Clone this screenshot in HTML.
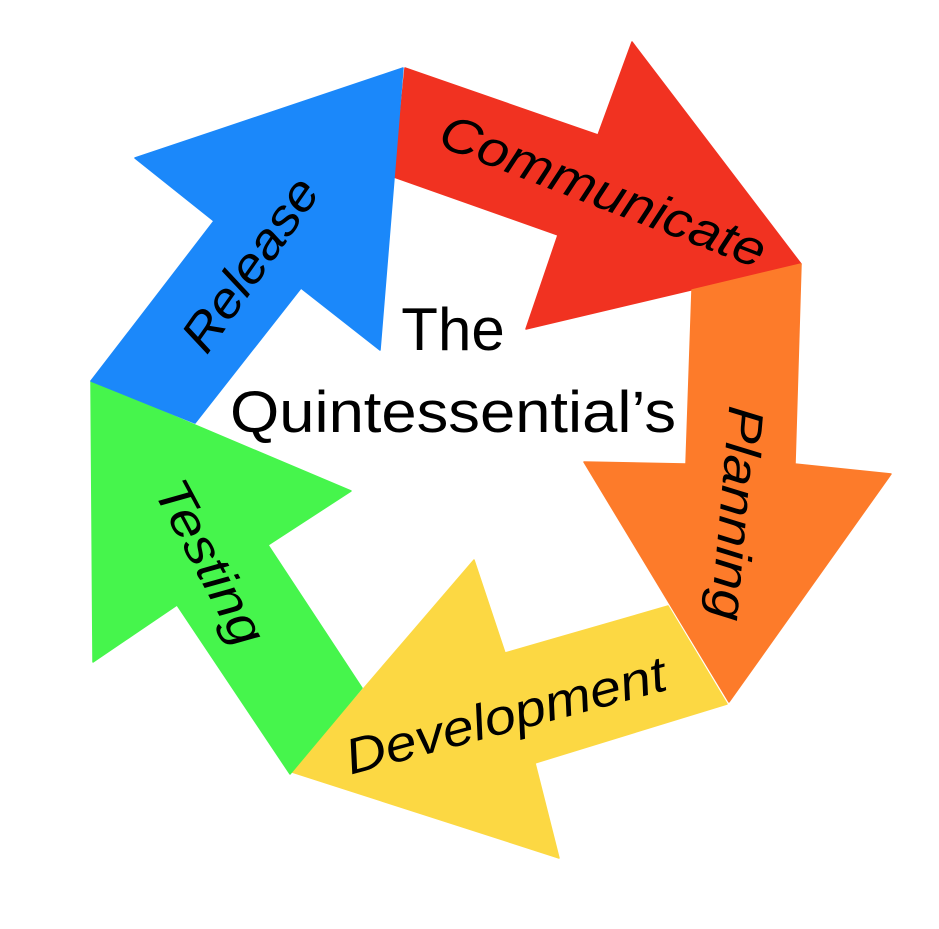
<!DOCTYPE html>
<html><head><meta charset="utf-8"><style>html,body{margin:0;padding:0;background:#fff}svg{display:block}</style></head>
<body>
<svg width="939" height="929" viewBox="0 0 939 929" xmlns="http://www.w3.org/2000/svg" font-family="Liberation Sans, sans-serif">
<polygon fill="#F13221" stroke="#F13221" stroke-width="1.5" stroke-linejoin="round" points="405,68 598,135 632,42 801,264 526,329 558,235 394,177"/>
<polygon fill="#FD7B2A" stroke="#FD7B2A" stroke-width="1.5" stroke-linejoin="round" points="692,290 801,264 795,464 891,474 729,702 584,462 686,464"/>
<polygon fill="#FCD843" stroke="#FCD843" stroke-width="1.5" stroke-linejoin="round" points="727,704 668,606 505,653 474,560 292,772 559,858 535,763"/>
<polygon fill="#46F54C" stroke="#46F54C" stroke-width="1.5" stroke-linejoin="round" points="362,688 268,545 351,491 91,381 93,662 177,605 290,774"/>
<polygon fill="#1B88FA" stroke="#1B88FA" stroke-width="1.5" stroke-linejoin="round" points="91,381 195,423 301,288 380,350 403,68 135,158 214,221"/>
<text x="453" y="350" font-size="60" text-anchor="middle">The</text>
<text x="453" y="432" font-size="58" text-anchor="middle" textLength="446" lengthAdjust="spacingAndGlyphs">Quintessential’s</text>
<g font-size="50" font-style="italic" fill="#000">
<text transform="translate(597,207) rotate(21)" text-anchor="middle" textLength="345" lengthAdjust="spacingAndGlyphs">Communicate</text>
<text transform="translate(720,512) rotate(95)" text-anchor="middle" textLength="215" lengthAdjust="spacingAndGlyphs">Planning</text>
<text transform="translate(510,732) rotate(-15)" text-anchor="middle" textLength="330" lengthAdjust="spacingAndGlyphs">Development</text>
<text transform="translate(195,570) rotate(62)" text-anchor="middle" textLength="180" lengthAdjust="spacingAndGlyphs">Testing</text>
<text transform="translate(264,274) rotate(-55)" text-anchor="middle" textLength="200" lengthAdjust="spacingAndGlyphs">Release</text>
</g>
</svg>
</body></html>
